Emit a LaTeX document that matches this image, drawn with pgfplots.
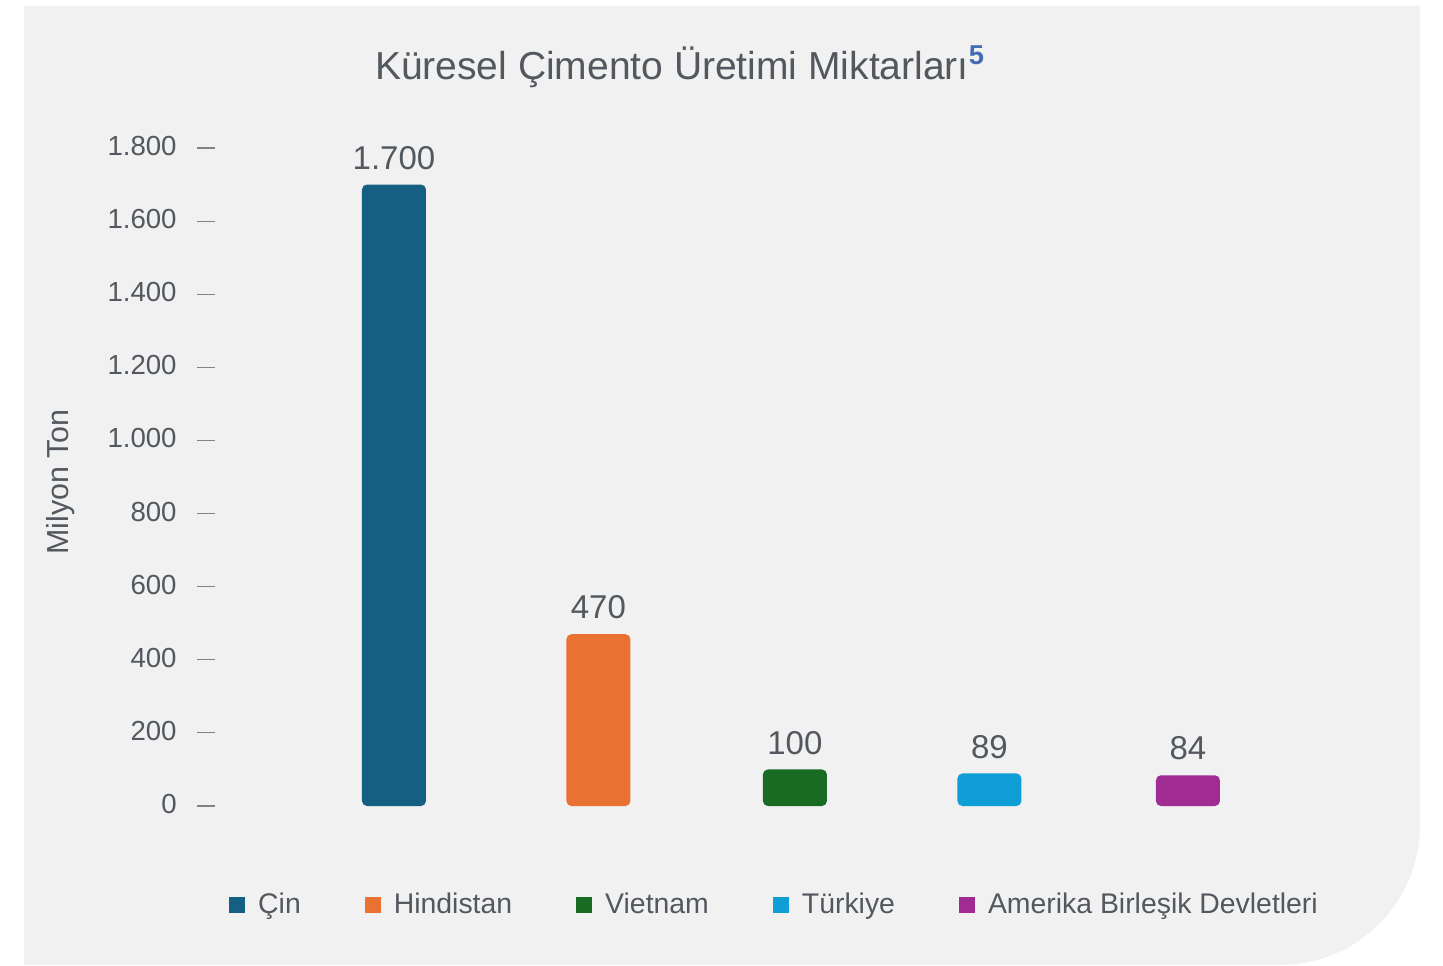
\documentclass[border=0pt]{standalone}
\usepackage{pgfplots}
\pgfplotsset{compat=1.18}
\usepackage{fontspec}
\setmainfont{Liberation Sans}

\definecolor{bgc}{RGB}{241,241,241}
\definecolor{txt}{RGB}{82,88,94}
\definecolor{tickc}{RGB}{130,130,130}
\definecolor{supc}{RGB}{68,108,180}
\definecolor{cin}{RGB}{21,96,130}
\definecolor{hin}{RGB}{233,113,50}
\definecolor{vie}{RGB}{25,107,36}
\definecolor{tur}{RGB}{15,158,213}
\definecolor{abd}{RGB}{160,43,147}

\pgfplotsset{
  sqbar/.style={ybar, bar width=32pt, bar shift=0pt, draw=none, fill=#1,
    rounded corners=2.5pt,
    legend image code/.code={\fill[#1, sharp corners] (0pt,-4pt) rectangle (8pt,4pt);
      \path (12.5pt,0pt);}},
}

\begin{document}
\begin{tikzpicture}
\path[use as bounding box] (0,0) rectangle (721.5pt,482.5pt);
\fill[bgc] (12pt,0pt) -- (12pt,479.5pt) -- (710pt,479.5pt) -- (710pt,70pt)
  arc[start angle=0, end angle=-90, radius=70pt] -- cycle;

\node[text=txt, font=\fontsize{19.5}{22}\selectfont] at (340pt,449pt)
  {Küresel Çimento Üretimi Miktarları\textsuperscript{\textcolor{supc}{\textbf{5}}}};
\node[text=txt, rotate=90, font=\fontsize{15.2}{18}\selectfont] at (30.5pt,241.5pt) {Milyon Ton};

\begin{axis}[
  at={(98.5pt,79.5pt)}, anchor=south west,
  scale only axis, width=555pt, height=329pt,
  xmin=-0.9924, xmax=4.6, ymin=0, ymax=1800,
  clip=false,
  axis line style={draw=none},
  xtick=\empty,
  ytick={0,200,...,1800},
  ytick pos=left,
  tick align=inside,
  major tick length=9pt,
  y tick style={tickc, line width=0.6pt},
  yticklabel style={anchor=east, inner sep=0pt, xshift=-10pt, yshift=1pt, text=txt,
    font=\fontsize{13.8}{16}\selectfont},
  /pgf/number format/.cd, 1000 sep={.}, assume math mode=true, /pgfplots/.cd,
  nodes near coords,
  nodes near coords style={text=txt, font=\fontsize{16.5}{19}\selectfont,
    anchor=south, yshift=4pt},
  legend columns=5,
  legend style={at={(0.5212,-0.1504)}, anchor=center, draw=none, fill=none,
    text=txt, font=\fontsize{14.2}{17}\selectfont,
    /tikz/every even column/.append style={column sep=30pt}},
]
\addplot[sqbar=cin] coordinates {(0,1700)};
\addplot[sqbar=hin] coordinates {(1.03,470)};
\addplot[sqbar=vie] coordinates {(2.02,100)};
\addplot[sqbar=tur] coordinates {(3,89)};
\addplot[sqbar=abd] coordinates {(4,84)};
\legend{Çin,Hindistan,Vietnam,Türkiye,Amerika Birleşik Devletleri}
\end{axis}
\end{tikzpicture}
\end{document}
